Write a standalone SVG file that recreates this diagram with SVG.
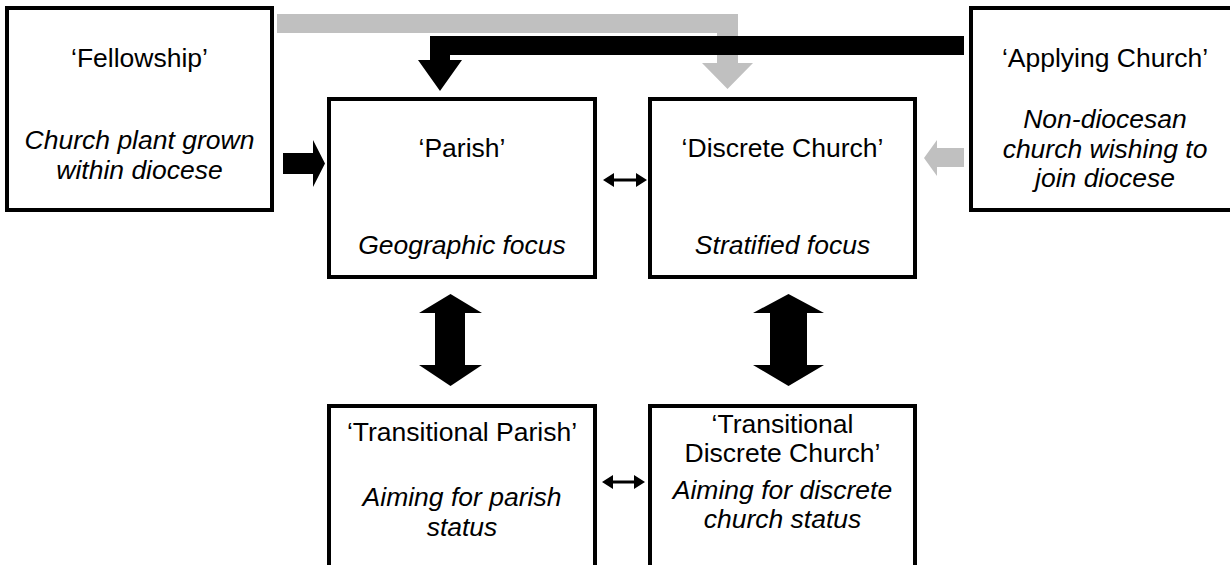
<svg xmlns="http://www.w3.org/2000/svg" width="1230" height="565" viewBox="0 0 1230 565">
<style>
.box{fill:#fff;stroke:#000;stroke-width:4}
.t{font-family:"Liberation Sans",Arial,sans-serif;font-size:26.5px;fill:#000;text-anchor:middle}
.i{font-style:italic}
.blk{fill:#000}
.gry{fill:#c0c0c0}
</style>
<rect width="1230" height="565" fill="#fff"/>
<g id="fellowship">
<rect class="box" x="7" y="8" width="265" height="202"/>
<text class="t" x="139.5" y="67">‘Fellowship’</text>
<text class="t i" x="139.5" y="149">Church plant grown</text>
<text class="t i" x="139.5" y="179">within diocese</text>
</g>
<g id="applying">
<rect class="box" x="971" y="8" width="270" height="202"/>
<text class="t" x="1105" y="67">‘Applying Church’</text>
<text class="t i" x="1105" y="128">Non-diocesan</text>
<text class="t i" x="1105" y="158">church wishing to</text>
<text class="t i" x="1105" y="187">join diocese</text>
</g>
<g id="parish">
<rect class="box" x="329" y="99" width="266" height="178"/>
<text class="t" x="462" y="157">‘Parish’</text>
<text class="t i" x="462" y="254">Geographic focus</text>
</g>
<g id="discrete">
<rect class="box" x="650" y="99" width="265" height="178"/>
<text class="t" x="782.5" y="157">‘Discrete Church’</text>
<text class="t i" x="782.5" y="254">Stratified focus</text>
</g>
<g id="trans-parish">
<rect class="box" x="329" y="406" width="266" height="170"/>
<text class="t" x="462" y="441">‘Transitional Parish’</text>
<text class="t i" x="462" y="506">Aiming for parish</text>
<text class="t i" x="462" y="536">status</text>
</g>
<g id="trans-discrete">
<rect class="box" x="650" y="406" width="265" height="170"/>
<text class="t" x="782.5" y="433">‘Transitional</text>
<text class="t" x="782.5" y="462">Discrete Church’</text>
<text class="t i" x="782.5" y="499">Aiming for discrete</text>
<text class="t i" x="782.5" y="528">church status</text>
</g>
<g id="connectors">
<polygon class="gry" points="277,14 738,14 738,63 753,63 727.5,89 702,63 717,63 717,33 277,33"/>
<polygon class="blk" points="964,36 964,55 450,55 450,60 462,60 440,91 418,60 430,60 430,36"/>
<polygon class="blk" points="283,153 313,153 313,140 325,163.5 313,187 313,174 283,174"/>
<polygon class="gry" points="964,148 937,148 937,140 924,158 937,176 937,167 964,167"/>
<polygon class="blk" points="603,180 614,173 614,178.5 636,178.5 636,173 647,180 636,187 636,181.5 614,181.5 614,187"/>
<polygon class="blk" points="602,482 613,475 613,480.5 634,480.5 634,475 645,482 634,489 634,483.5 613,483.5 613,489"/>
<polygon class="blk" points="450.5,294 482,313 465,313 465,365 482,365 450.5,386 419,365 435,365 435,313 419,313"/>
<polygon class="blk" points="788.5,294 824,313 807,313 807,365 824,365 788.5,386 753,365 770,365 770,313 753,313"/>
</g>
</svg>
